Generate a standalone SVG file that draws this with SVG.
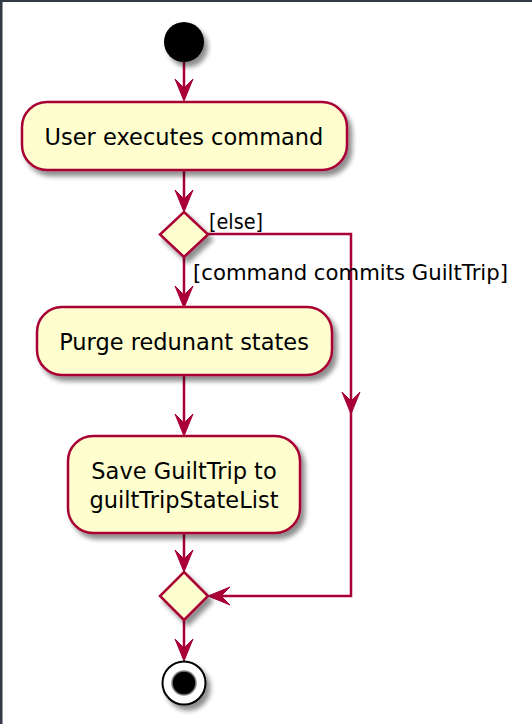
<svg xmlns="http://www.w3.org/2000/svg" width="532" height="724" viewBox="0 0 532 724">
<defs>
<style>
.act{fill:#FEFECE;stroke:#A80036;stroke-width:2.5}
.dia{fill:#FEFECE;stroke:#A80036;stroke-width:2.5}
.lbl{font-family:"DejaVu Sans",sans-serif;font-size:22.5px;fill:#000}
.grd{font-family:"DejaVu Sans",sans-serif;font-size:20.8px;fill:#000}
.ln{fill:none;stroke:#A80036;stroke-width:2.5}
.ah{fill:#A80036;stroke:#A80036;stroke-width:1}
</style>
<filter id="sh" x="-30%" y="-30%" width="160%" height="160%">
<feGaussianBlur in="SourceAlpha" stdDeviation="2.5"/>
<feOffset dx="4" dy="5" result="b"/>
<feComponentTransfer><feFuncA type="linear" slope="0.45"/></feComponentTransfer>
<feMerge><feMergeNode/><feMergeNode in="SourceGraphic"/></feMerge>
</filter>
</defs>
<rect x="0" y="0" width="532" height="724" fill="#fff"/>
<rect x="0" y="0" width="532" height="2" fill="#333b47"/>
<rect x="0" y="0" width="2.5" height="724" fill="#333b47"/>

<g id="connectors">
<line class="ln" x1="184" y1="62" x2="184" y2="98"/>
<polygon class="ah" points="175,79 184,101 193,79 184,88"/>
<line class="ln" x1="184" y1="170" x2="184" y2="208"/>
<polygon class="ah" points="175,190 184,212 193,190 184,199"/>
<polyline class="ln" points="208,234 351,234 351,596 212,596"/>
<polygon class="ah" points="342,392 351,414 360,392 351,401"/>
<polygon class="ah" points="230,587 208,596 230,605 221,596"/>
<line class="ln" x1="184" y1="257" x2="184" y2="304"/>
<polygon class="ah" points="175,286 184,308 193,286 184,295"/>
<line class="ln" x1="184" y1="375" x2="184" y2="432"/>
<polygon class="ah" points="175,414 184,436 193,414 184,423"/>
<line class="ln" x1="184" y1="533" x2="184" y2="568"/>
<polygon class="ah" points="175,550 184,572 193,550 184,559"/>
<line class="ln" x1="184" y1="620" x2="184" y2="657"/>
<polygon class="ah" points="175,639 184,661 193,639 184,648"/>
<text class="grd" x="209" y="229" textLength="54" lengthAdjust="spacingAndGlyphs">[else]</text>
<text class="grd" x="193" y="280" textLength="315" lengthAdjust="spacingAndGlyphs">[command commits GuiltTrip]</text>
</g>

<g id="start">
<circle cx="184" cy="42" r="20" fill="#000" filter="url(#sh)"/>
</g>

<g id="userExecutes">
<rect class="act" x="22" y="102" width="325" height="68" rx="25" filter="url(#sh)"/>
<text class="lbl" x="184" y="145" text-anchor="middle">User executes command</text>
</g>

<g id="decision1">
<polygon class="dia" points="184,212 208,234.5 184,257 160,234.5" filter="url(#sh)"/>
</g>

<g id="purge">
<rect class="act" x="37" y="307" width="295" height="68" rx="25" filter="url(#sh)"/>
<text class="lbl" x="184" y="350" text-anchor="middle">Purge redunant states</text>
</g>

<g id="save">
<rect class="act" x="68" y="436" width="232" height="97" rx="25" filter="url(#sh)"/>
<text class="lbl" x="184" y="479" text-anchor="middle">Save GuiltTrip to</text>
<text class="lbl" x="184" y="508" text-anchor="middle">guiltTripStateList</text>
</g>

<g id="merge">
<polygon class="dia" points="184,572 208,596 184,620 160,596" filter="url(#sh)"/>
</g>

<g id="end">
<g filter="url(#sh)">
<circle cx="184" cy="683" r="21.5" fill="#fff" stroke="#000" stroke-width="2"/>
</g>
<circle cx="184" cy="683" r="12" fill="#000" stroke="#7f7f7f" stroke-width="1.5"/>
</g>
</svg>
